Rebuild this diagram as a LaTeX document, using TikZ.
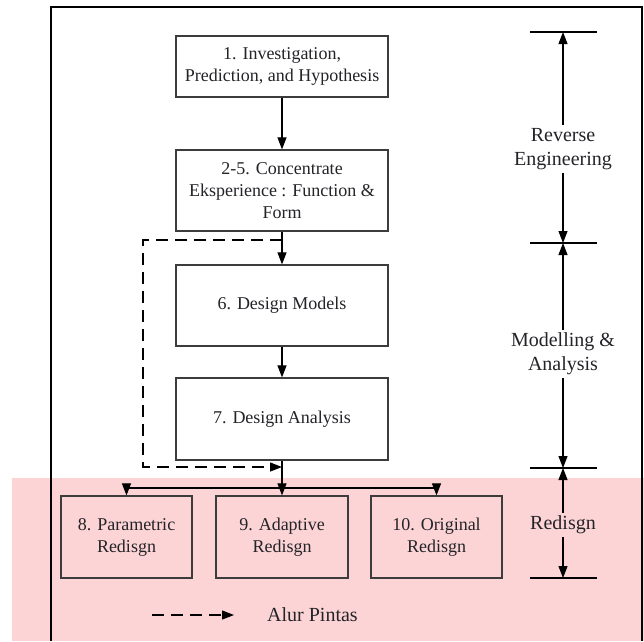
\documentclass[tikz,border=0pt]{standalone}
\usepackage{fontspec}
\setmainfont{Liberation Serif}
\usetikzlibrary{arrows.meta}
\definecolor{pinkbg}{RGB}{252,212,214}
\definecolor{boxline}{RGB}{60,60,60}
\definecolor{txt}{RGB}{35,35,40}
\begin{document}
\begin{tikzpicture}[x=1pt,y=-1pt,
  stepbox/.style={draw=boxline,line width=1.2pt,fill=white,align=center,
    text=txt,font=\fontsize{18}{22}\selectfont,inner sep=2pt},
  redbox/.style={stepbox,fill=pinkbg},
  arr/.style={line width=1.1pt,-{Triangle[length=12pt,width=9pt]}},
  dsh/.style={dash pattern=on 12pt off 7pt},
  ln/.style={line width=1.1pt},
  lab/.style={align=center,text=txt,font=\fontsize{20}{24}\selectfont,inner sep=3pt},
  bar/.style={line width=1.1pt}]
\useasboundingbox (0,0) rectangle (644,641);
\fill[pinkbg] (12,478) rectangle (644,641);
\draw[line width=2pt] (51,641) -- (51,7) -- (642,7) -- (642,641);
% boxes
\node[stepbox,minimum width=212pt,minimum height=61pt] (b1) at (282,66.5) {1. Investigation,\\Prediction, and Hypothesis};
\node[stepbox,minimum width=212pt,minimum height=81pt] (b2) at (282,190.5) {2-5. Concentrate\\Eksperience : Function \&\\Form};
\node[stepbox,minimum width=212pt,minimum height=81pt] (b6) at (282,305.5) {6. Design Models};
\node[stepbox,minimum width=212pt,minimum height=82pt] (b7) at (282,419) {7. Design Analysis};
\node[redbox,minimum width=131pt,minimum height=82pt] (b8) at (126.5,537) {8. Parametric\\Redisgn};
\node[redbox,minimum width=132pt,minimum height=82pt] (b9) at (282,537) {9. Adaptive\\Redisgn};
\node[redbox,minimum width=131pt,minimum height=82pt] (b10) at (436.5,537) {10. Original\\Redisgn};
% connectors
\draw[arr] (b1) -- (b2);
\draw[arr] (b2) -- (b6);
\draw[arr] (b6) -- (b7);
\coordinate (j) at (282,488);
\coordinate (ds) at (282,240);
\coordinate (de) at (282,467);
\draw[ln] (b7.south) -- (j);
\draw[arr] (j) -- (b9.north);
\draw[arr] (j) -| (b8.north);
\draw[arr] (j) -| (b10.north);
\draw[arr,dsh] (ds) -- (143,240) -- (143,467) -- (de);
% right scale
\foreach \n/\yy in {t1/32,t2/243,t3/468,t4/578}{
  \coordinate (\n l) at (530,\yy);
  \coordinate (\n r) at (597,\yy);
  \coordinate (\n) at (563,\yy);
  \draw[bar] (\n l) -- (\n r);
}
\node[lab] (re) at (563,149) {Reverse\\Engineering};
\node[lab] (ma) at (563,354) {Modelling \&\\Analysis};
\node[lab] (rd) at (563,525) {Redisgn};
\draw[arr] (re.north) -- (t1);
\draw[arr] (re.south) -- (t2);
\draw[arr] (ma.north) -- (t2);
\draw[arr] (ma.south) -- (t3);
\draw[arr] (rd.north) -- (t3);
\draw[arr] (rd.south) -- (t4);
% legend
\coordinate (la) at (152,615);
\node[lab,anchor=west] (lt) at (264,615) {Alur Pintas};
\coordinate (lb) at (234,615);
\draw[arr,dsh] (la) -- (lb);
\end{tikzpicture}
\end{document}
